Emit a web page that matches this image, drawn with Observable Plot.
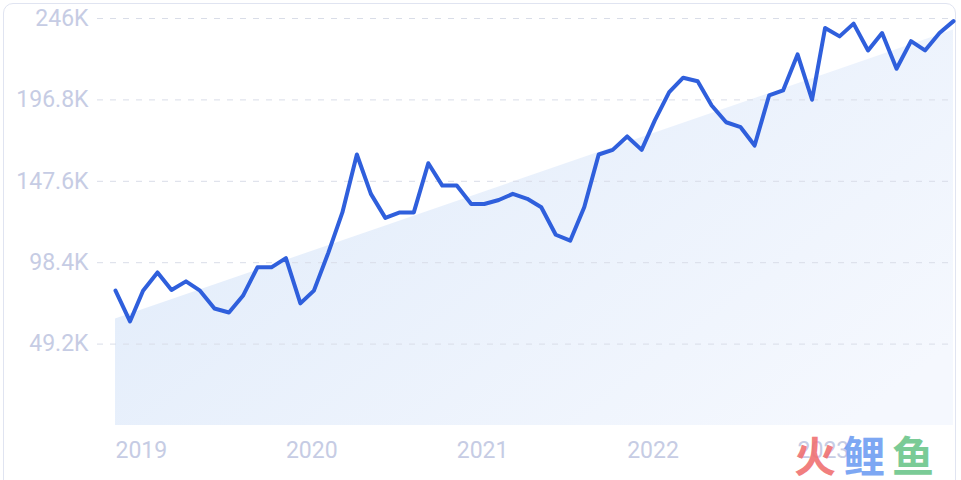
<!DOCTYPE html>
<html>
<head>
<meta charset="utf-8">
<script src="https://cdn.jsdelivr.net/npm/d3@7"></script>
<script src="https://cdn.jsdelivr.net/npm/@observablehq/plot@0.6"></script>
<style>
  html, body { margin: 0; padding: 0; background: #fff; width: 961px; height: 480px; overflow: hidden; }
  #card { position: absolute; left: 3px; top: 3px; width: 953px; height: 520px; border: 1.5px solid #e0e4f1; border-radius: 10px; box-sizing: border-box; }
  #chart { position: absolute; left: 0; top: 0; }
  #wm { position: absolute; left: 794px; top: 433px; font-family: "Noto Sans CJK SC", sans-serif; font-weight: 700; font-size: 42px; letter-spacing: 7px; line-height: 42px; opacity: 0.9; white-space: nowrap; }
</style>
</head>
<body>
<div id="card"></div>
<div id="chart"></div>
<div id="wm"><span style="color:#f07272">火</span><span style="color:#6f9ef2">鲤</span><span style="color:#6cc68b">鱼</span></div>
<script>
// Monthly values (Jan 2019 – Dec 2023)
const startYear = 2019;
const values = [
  81500, 62900, 81500, 92500, 81900, 87100, 81500, 70700, 68300, 78400, 95600, 95600,
  101200, 73800, 81500, 104500, 128800, 163800, 140000, 125500, 128800, 128800, 158500, 145000,
  145000, 133900, 133900, 136300, 140000, 137000, 131900, 115300, 111700, 131900, 163800, 166600,
  174700, 166600, 184300, 201500, 210200, 208100, 193400, 183300, 180300, 169200, 199500, 202500,
  224300, 196900, 240300, 235200, 242900, 226700, 237200, 215600, 232300, 226700, 237200, 244400
];
// Trend band endpoints
const trendValues = [64300, 239000];
// Axis ticks
const yTicks = [49200, 98400, 147600, 196800, 246000];
const yearTicks = [2019, 2020, 2021, 2022, 2023];

const data = values.map((v, i) => ({date: new Date(Date.UTC(startYear, i, 1)), value: v}));
const trend = [
  {date: data[0].date, value: trendValues[0]},
  {date: data[data.length - 1].date, value: trendValues[1]}
];
const xTickDates = yearTicks.map(y => new Date(Date.UTC(y, 0, 1)));

const axisColor = "#c6cce4";
const font = "Roboto, 'Noto Sans', sans-serif";

const chart = Plot.plot({
  width: 961,
  height: 480,
  marginLeft: 115,
  marginRight: 8,
  marginTop: 18,
  marginBottom: 55,
  style: {fontFamily: font, background: "transparent"},
  x: {type: "utc", domain: [data[0].date, data[data.length - 1].date], label: null},
  y: {domain: [0, 246000], label: null},
  marks: [
    Plot.areaY(trend, {x: "date", y: "value", fill: "url(#trendGrad)"}),
    Plot.gridY(yTicks, {stroke: "#d9dde8", strokeOpacity: 1, strokeWidth: 1, strokeDasharray: "6,7", insetLeft: -18}),
    Plot.axisY(yTicks, {tickSize: 0, tickPadding: 27, fontSize: 23, fill: axisColor, label: null, tickFormat: d => (d / 1000) + "K"}),
    Plot.axisX(xTickDates, {tickSize: 0, tickPadding: 16, fontSize: 23, fill: axisColor, label: null, textAnchor: "start", tickFormat: d => String(d.getUTCFullYear())}),
    Plot.lineY(data, {x: "date", y: "value", stroke: "#2f5fdc", strokeWidth: 4, strokeLinejoin: "round", strokeLinecap: "round"})
  ]
});

const svg = d3.select(chart);
const defs = svg.insert("defs", ":first-child");
const grad = defs.append("linearGradient")
  .attr("id", "trendGrad")
  .attr("x1", 0).attr("y1", 0.2).attr("x2", 1).attr("y2", 0.8);
grad.append("stop").attr("offset", 0).attr("stop-color", "#e0ebfa");
grad.append("stop").attr("offset", 1).attr("stop-color", "#f5f8fe");

document.getElementById("chart").appendChild(chart);
</script>
</body>
</html>
